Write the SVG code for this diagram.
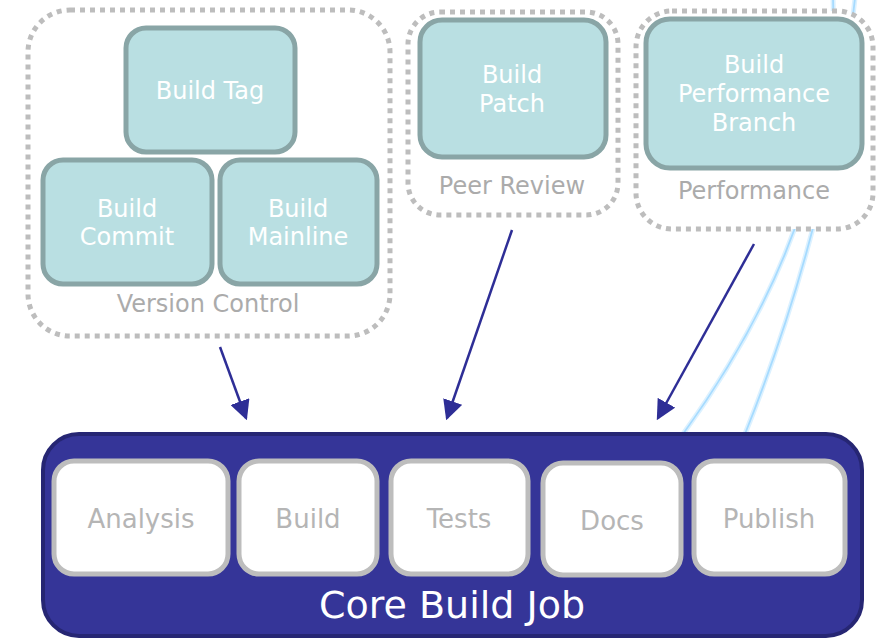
<svg xmlns="http://www.w3.org/2000/svg" width="881" height="640" viewBox="0 0 881 640">
<defs>
<style>
.grp{fill:#fff;stroke:#bdbdbd;stroke-width:5;stroke-dasharray:5 5}
.cy{fill:#b9dfe2;stroke:#89a5a6;stroke-width:5}
.wb{fill:#fff;stroke:#bdbdbd;stroke-width:5}
.t{font-family:"DejaVu Sans",Verdana,sans-serif;text-anchor:middle}
.tw{fill:#fff;font-size:24px}
.tg{fill:#ababab;font-size:24px}
.ti{fill:#b5b5b5;font-size:26px}
.arr{stroke:#2e2e96;stroke-width:2.5;fill:none;marker-end:url(#ah)}
.glow{fill:none;stroke:#dcf1ff;stroke-width:5}
.core{fill:none;stroke:#a6dbff;stroke-width:1.8}
</style>
<marker id="ah" markerWidth="8" markerHeight="8" refX="7" refY="4" orient="auto" markerUnits="strokeWidth">
<path d="M0,0 L8,4 L0,8 Z" fill="#2e2e96"/>
</marker>
</defs>
<rect width="881" height="640" fill="#fff"/>
<g id="curves">
<path class="glow" d="M833,-2 Q840.6,216 683,434"/>
<path class="glow" d="M855,-2 Q832.2,216 745,434"/>
<path class="core" d="M833,-2 Q840.6,216 683,434"/>
<path class="core" d="M855,-2 Q832.2,216 745,434"/>
</g>
<g id="version-control">
<rect class="grp" x="28" y="10" width="362" height="326" rx="42"/>
<text class="t tg" x="208" y="312">Version Control</text>
</g>
<g id="build-tag">
<rect class="cy" x="126" y="28" width="169" height="124" rx="20"/>
<text class="t tw" x="210" y="99">Build Tag</text>
</g>
<g id="build-commit">
<rect class="cy" x="43" y="160" width="169" height="124" rx="20"/>
<text class="t tw" x="127" y="217">Build</text>
<text class="t tw" x="127" y="245">Commit</text>
</g>
<g id="build-mainline">
<rect class="cy" x="220" y="160" width="157" height="124" rx="20"/>
<text class="t tw" x="298" y="217">Build</text>
<text class="t tw" x="298" y="245">Mainline</text>
</g>
<g id="peer-review">
<rect class="grp" x="408" y="12" width="210" height="203" rx="32"/>
<text class="t tg" x="512" y="194">Peer Review</text>
</g>
<g id="build-patch">
<rect class="cy" x="420" y="20" width="186" height="137" rx="22"/>
<text class="t tw" x="512" y="83">Build</text>
<text class="t tw" x="512" y="112">Patch</text>
</g>
<g id="performance">
<rect class="grp" x="636" y="11" width="237" height="218" rx="36"/>
<text class="t tg" x="754" y="199">Performance</text>
</g>
<g id="build-performance-branch">
<rect class="cy" x="646" y="19" width="216" height="149" rx="24"/>
<text class="t tw" x="754" y="73">Build</text>
<text class="t tw" x="754" y="102">Performance</text>
<text class="t tw" x="754" y="131">Branch</text>
</g>
<g id="connectors">
<path class="arr" d="M220,347 L246,418"/>
<path class="arr" d="M512,230 L447,418"/>
<path class="arr" d="M754,244 L658,418"/>
</g>
<g id="core-build-job">
<rect x="43" y="434" width="819" height="202" rx="36" fill="#353598" stroke="#262673" stroke-width="4"/>
<text class="t" x="452" y="618" fill="#fff" font-size="38">Core Build Job</text>
</g>
<g id="analysis">
<rect class="wb" x="54" y="461" width="174" height="113" rx="20"/>
<text class="t ti" x="141" y="528">Analysis</text>
</g>
<g id="build">
<rect class="wb" x="239" y="461" width="138" height="113" rx="20"/>
<text class="t ti" x="308" y="528">Build</text>
</g>
<g id="tests">
<rect class="wb" x="391" y="461" width="137" height="113" rx="20"/>
<text class="t ti" x="459" y="528">Tests</text>
</g>
<g id="docs">
<rect class="wb" x="543" y="463" width="138" height="112" rx="20"/>
<text class="t ti" x="612" y="530">Docs</text>
</g>
<g id="publish">
<rect class="wb" x="694" y="461" width="151" height="113" rx="20"/>
<text class="t ti" x="769" y="528">Publish</text>
</g>
</svg>
